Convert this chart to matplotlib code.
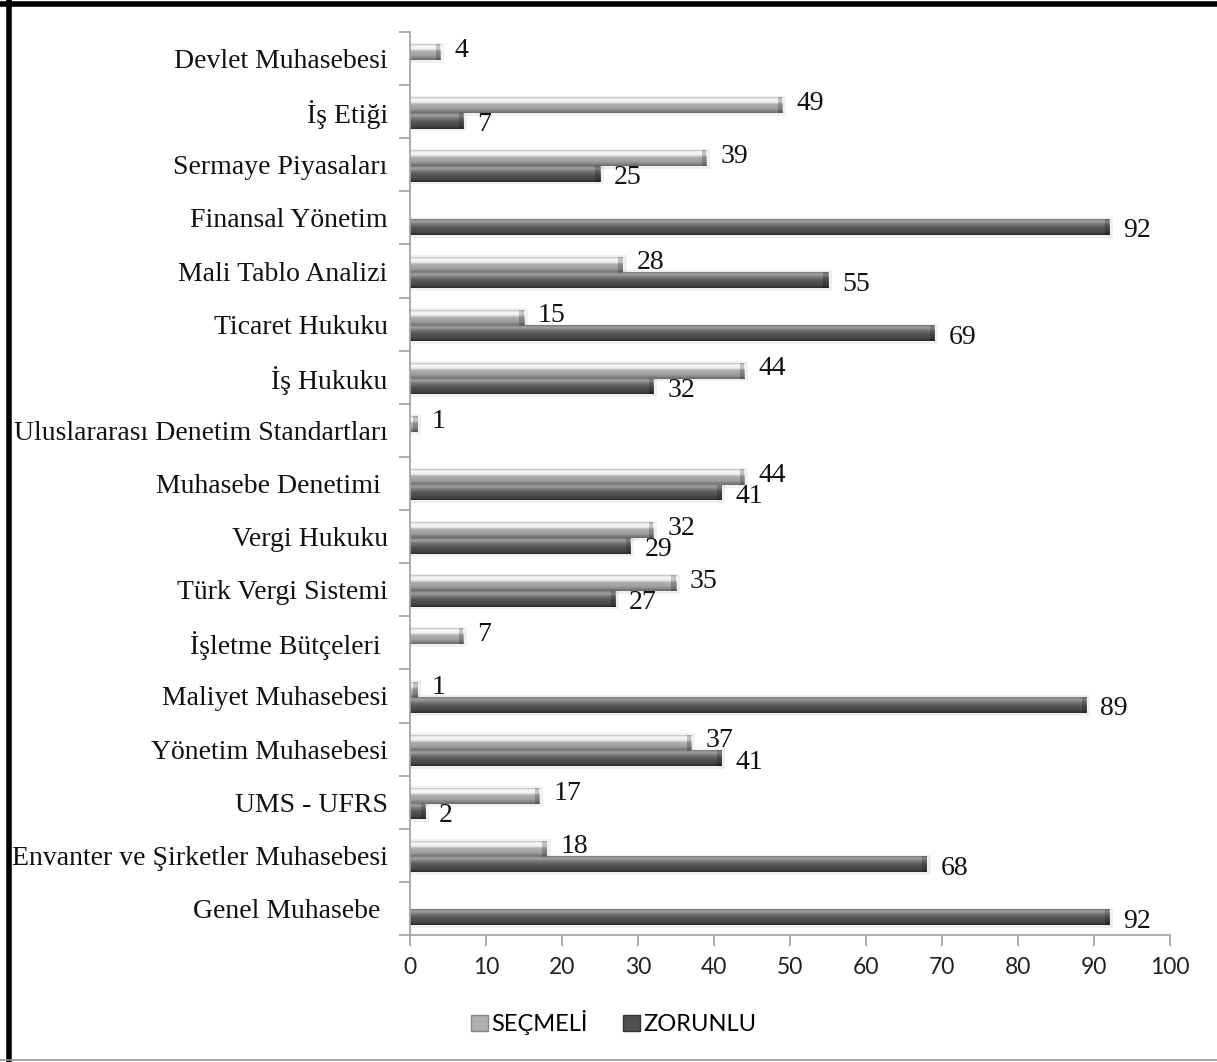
import numpy as np
import matplotlib
matplotlib.use('Agg')
import matplotlib.pyplot as plt
from matplotlib.colors import LinearSegmentedColormap
from matplotlib.lines import Line2D
from matplotlib.patches import Rectangle

# dersler (yukarıdan aşağıya)
dersler = ['Devlet Muhasebesi', 'İş Etiği', 'Sermaye Piyasaları', 'Finansal Yönetim',
           'Mali Tablo Analizi', 'Ticaret Hukuku', 'İş Hukuku',
           'Uluslararası Denetim Standartları', 'Muhasebe Denetimi ', 'Vergi Hukuku',
           'Türk Vergi Sistemi', 'İşletme Bütçeleri ', 'Maliyet Muhasebesi',
           'Yönetim Muhasebesi', 'UMS - UFRS', 'Envanter ve Şirketler Muhasebesi',
           'Genel Muhasebe ']
secmeli = [4, 49, 39, 0, 28, 15, 44, 1, 44, 32, 35, 7, 1, 37, 17, 18, 0]
zorunlu = [0, 7, 25, 92, 55, 69, 32, 0, 41, 29, 27, 0, 89, 41, 2, 68, 92]
x_ticks = list(range(0, 101, 10))

serif = ['Liberation Serif', 'DejaVu Serif']
sans = ['Lato', 'DejaVu Sans']

# çubuklar için dikey degrade (üst -> alt)
cm_acik = LinearSegmentedColormap.from_list('acik', [
    (0.0, '#bdbdbd'), (0.12, '#f8f8f8'), (0.32, '#eeeeee'), (0.45, '#b0b0b0'),
    (0.75, '#9c9c9c'), (1.0, '#686868')])
cm_koyu = LinearSegmentedColormap.from_list('koyu', [
    (0.0, '#7c7c7c'), (0.15, '#a0a0a0'), (0.32, '#787878'), (0.55, '#555555'),
    (0.85, '#444444'), (1.0, '#2a2a2a')])
grad = np.linspace(0, 1, 64).reshape(-1, 1)

fig = plt.figure(figsize=(12.17, 10.62), dpi=100)
ax = fig.add_axes([0.3369, 0.1196, 0.6245, 0.8503])

n = len(dersler)
y = np.arange(n)[::-1]
h = 0.30
off_s = 0.12
off_z = -0.17


def degrade_cubuk(val, yc, cmap):
    if val <= 0:
        return
    # hafif gölge
    ax.add_patch(Rectangle((0, yc - h / 2 - 0.05), val + 0.5, h + 0.08,
                           facecolor='#000000', alpha=0.06, edgecolor='none', zorder=1))
    ax.imshow(grad, cmap=cmap, aspect='auto', interpolation='bilinear',
              extent=(0, val, yc - h / 2, yc + h / 2), zorder=2)
    # sağ uçtaki pah
    ax.add_patch(Rectangle((max(val - 0.6, 0), yc - h / 2), min(0.6, val), h,
                           facecolor='#000000', alpha=0.2, edgecolor='none', zorder=3))


for i in range(n):
    degrade_cubuk(secmeli[i], y[i] + off_s, cm_acik)
    degrade_cubuk(zorunlu[i], y[i] + off_z, cm_koyu)
    if secmeli[i] > 0:
        ax.annotate(str(secmeli[i]), (secmeli[i], y[i] + off_s), xytext=(14, 2),
                    textcoords='offset pixels', va='center', ha='left',
                    fontsize=20, family=serif, color='#111111', zorder=5)
    if zorunlu[i] > 0:
        ax.annotate(str(zorunlu[i]), (zorunlu[i], y[i] + off_z), xytext=(14, -4),
                    textcoords='offset pixels', va='center', ha='left',
                    fontsize=20, family=serif, color='#111111', zorder=5)

ax.set_xlim(0, 100)
ax.set_ylim(-0.5, n - 0.5)
ax.set_xticks(x_ticks)
ax.set_xticklabels([str(t) for t in x_ticks], fontsize=16.5, family=sans, color='#222222')
ax.set_yticks(y)
ax.set_yticklabels(dersler, fontsize=20, family=serif, color='#111111')
ax.set_yticks(np.arange(n + 1) - 0.5, minor=True)
ax.tick_params(axis='y', which='major', length=0, pad=16)
ax.tick_params(axis='y', which='minor', length=8, color='#a0a0a0', width=1.2)
ax.tick_params(axis='x', length=8, color='#a0a0a0', width=1.2, pad=8)

for s in ['top', 'right']:
    ax.spines[s].set_visible(False)
for s in ['left', 'bottom']:
    ax.spines[s].set_color('#a0a0a0')
    ax.spines[s].set_linewidth(1.2)

# lejant
leg_h = [Rectangle((0, 0), 1, 1, facecolor='#b0b0b0', edgecolor='#888888'),
         Rectangle((0, 0), 1, 1, facecolor='#505050', edgecolor='#333333')]
fig.legend(leg_h, ['SEÇMELİ', 'ZORUNLU'], loc='center', bbox_to_anchor=(0.5045, 0.037),
           ncol=2, frameon=False, prop={'family': sans, 'size': 17},
           handlelength=0.7, handleheight=0.7, handletextpad=0.15, columnspacing=1.5)

# çerçeve
fig.add_artist(Line2D([0.0071, 0.0071], [0.0, 1.0], color='black', linewidth=4,
                      transform=fig.transFigure))
fig.add_artist(Line2D([0.0, 1.0], [0.9965, 0.9965], color='black', linewidth=4,
                      transform=fig.transFigure))
fig.add_artist(Line2D([0.0, 1.0], [0.0015, 0.0015], color='#999999', linewidth=1.2,
                      transform=fig.transFigure))

fig.savefig('out.png', dpi=100)
